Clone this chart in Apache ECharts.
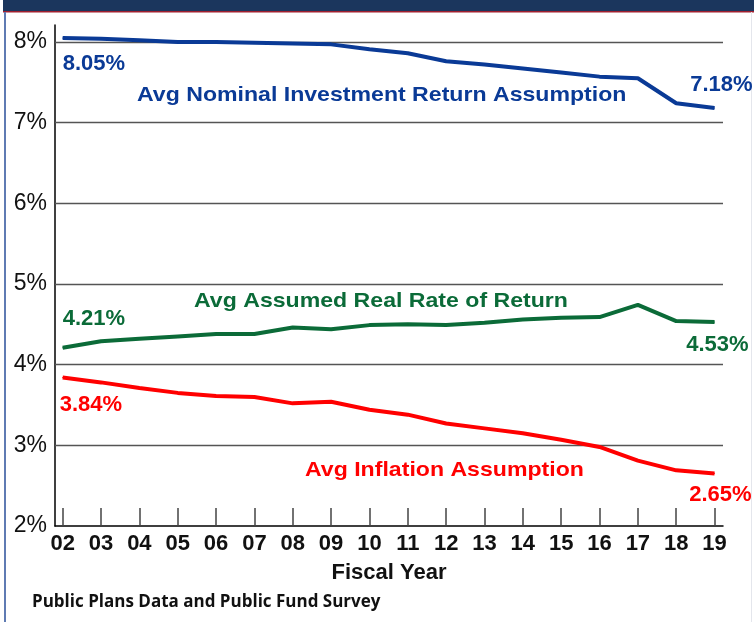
<!DOCTYPE html>
<html>
<head>
<meta charset="utf-8">
<script src="https://cdn.jsdelivr.net/npm/echarts@6/dist/echarts.min.js"></script>
<style>
  html, body { margin: 0; padding: 0; background: #fff; }
  #main { width: 754px; height: 622px; }
</style>
</head>
<body>
<div id="main"></div>
<script>
// fiscal years (x values) and their labels
var years = [2, 3, 4, 5, 6, 7, 8, 9, 10, 11, 12, 13, 14, 15, 16, 17, 18, 19];
var yearLabels = ['02', '03', '04', '05', '06', '07', '08', '09', '10', '11', '12', '13', '14', '15', '16', '17', '18', '19'];

// assumptions, percent
var nominalReturn = [8.05, 8.04, 8.02, 8.00, 8.00, 7.99, 7.98, 7.97, 7.91, 7.86, 7.76, 7.72, 7.67, 7.62, 7.57, 7.55, 7.24, 7.18];
var realReturn    = [4.21, 4.29, 4.32, 4.35, 4.38, 4.38, 4.46, 4.44, 4.49, 4.50, 4.49, 4.52, 4.56, 4.58, 4.59, 4.74, 4.54, 4.53];
var inflation     = [3.84, 3.78, 3.71, 3.65, 3.61, 3.60, 3.52, 3.54, 3.44, 3.38, 3.27, 3.21, 3.15, 3.07, 2.98, 2.81, 2.69, 2.65];

// y gridlines
var gridValues = [3, 4, 5, 6, 7, 8];

var BLUE = '#0a3a96', GREEN = '#0b6b38', RED = '#ff0000';
var FONT = '"Liberation Sans", Arial, sans-serif';

var chart = echarts.init(document.getElementById('main'));

// build points; first and last carry the value label
function points(vals, color, firstOff, lastOff) {
    return vals.map(function (v, i) {
        var item = {value: [years[i], v]};
        if (i === 0 || i === vals.length - 1) {
            var first = i === 0;
            item.label = {
                show: true,
                position: 'inside',
                align: first ? 'left' : 'right',
                verticalAlign: 'middle',
                offset: first ? firstOff : lastOff,
                formatter: v.toFixed(2) + '%',
                color: color,
                fontFamily: FONT,
                fontWeight: 'bold',
                fontSize: 22
            };
        }
        return item;
    });
}

function lineSeries(name, vals, color, firstOff, lastOff) {
    return {
        name: name,
        type: 'line',
        data: points(vals, color, firstOff, lastOff),
        symbol: 'circle',
        symbolSize: 1,
        showSymbol: true,
        clip: false,
        silent: true,
        itemStyle: {color: color},
        lineStyle: {color: color, width: 4},
        z: 5
    };
}

var seriesList = [
    lineSeries('nominal', nominalReturn, BLUE, [0, 26], [38, -23]),
    lineSeries('real', realReturn, GREEN, [0, -29], [34, 23]),
    lineSeries('inflation', inflation, RED, [-3, 27], [37, 21])
];
seriesList[0].markLine = {
    silent: true,
    symbol: 'none',
    label: {show: false},
    lineStyle: {color: '#555', width: 1.3, type: 'solid'},
    data: gridValues.map(function (v) { return {yAxis: v}; }),
    z: 1
};

chart.setOption({
    animation: false,
    grid: {left: 55, right: 31, top: 25, bottom: 96},
    xAxis: {
        type: 'value',
        min: 1.8,
        max: 19.22,
        splitLine: {show: false},
        axisLine: {lineStyle: {color: '#000', width: 1.5}},
        axisTick: {
            show: true,
            inside: true,
            length: 18,
            customValues: years,
            lineStyle: {color: '#444', width: 1.5}
        },
        axisLabel: {
            customValues: years,
            formatter: function (v) { return yearLabels[years.indexOf(v)]; },
            margin: 7,
            color: '#111',
            fontFamily: FONT,
            fontWeight: 'bold',
            fontSize: 22
        },
        name: 'Fiscal Year',
        nameLocation: 'middle',
        nameGap: 36,
        nameTextStyle: {color: '#111', fontFamily: FONT, fontWeight: 'bold', fontSize: 22}
    },
    yAxis: {
        type: 'value',
        min: 2,
        max: 8.21,
        interval: 1,
        splitLine: {show: false},
        axisTick: {show: false},
        axisLine: {show: true, lineStyle: {color: '#000', width: 1.5}},
        axisLabel: {
            formatter: function (v) { return Math.abs(v - Math.round(v)) < 1e-6 ? Math.round(v) + '%' : ''; },
            margin: 8,
            color: '#111',
            fontFamily: FONT,
            fontSize: 23
        }
    },
    graphic: [
        // banner at the top and page border
        {type: 'rect', left: 3, top: 0, shape: {width: 751, height: 11}, style: {fill: '#1b365d'}, silent: true},
        {type: 'rect', left: 3, top: 11, shape: {width: 751, height: 1.5}, style: {fill: '#a02030'}, silent: true},
        {type: 'rect', left: 4, top: 12, shape: {width: 2, height: 610}, style: {fill: '#5f7bb3'}, silent: true},
        {type: 'rect', left: 751, top: 12, shape: {width: 1, height: 610}, style: {fill: '#e4e6ec'}, silent: true},
        // series names
        {type: 'text', left: 137, top: 85, scaleX: 1.1, silent: true,
            style: {text: 'Avg Nominal Investment Return Assumption', fill: BLUE, font: 'bold 21px ' + FONT}},
        {type: 'text', left: 194, top: 291, scaleX: 1.1, silent: true,
            style: {text: 'Avg Assumed Real Rate of Return', fill: GREEN, font: 'bold 21px ' + FONT}},
        {type: 'text', left: 305, top: 460, scaleX: 1.1, silent: true,
            style: {text: 'Avg Inflation Assumption', fill: RED, font: 'bold 21px ' + FONT}},
        // source note
        {type: 'text', left: 32, top: 594, silent: true,
            style: {text: 'Public Plans Data and Public Fund Survey', fill: '#111', font: 'bold 17px "Open Sans", Lato, sans-serif'}}
    ],
    series: seriesList
});
</script>
</body>
</html>
